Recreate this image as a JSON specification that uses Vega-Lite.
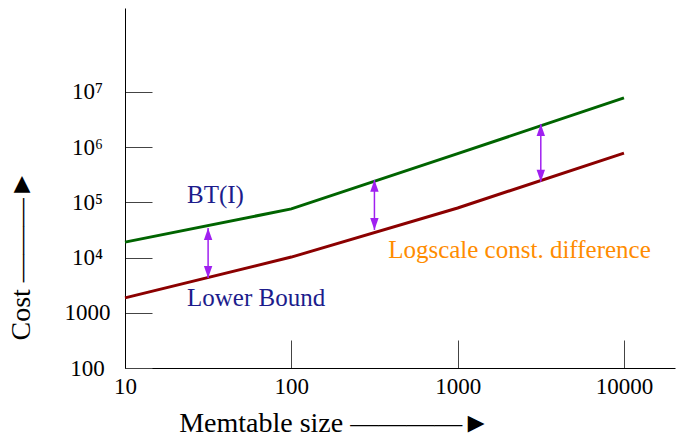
{
  "$schema": "https://vega.github.io/schema/vega-lite/v6.json",
  "width": 550,
  "height": 360,
  "autosize": "none",
  "padding": {"left": 125, "top": 8, "right": 1, "bottom": 68},
  "background": "white",
  "config": {
    "view": {"stroke": null},
    "font": "Liberation Serif"
  },
  "datasets": {
    "lines": [
      {"series": "BT(I)", "size": 10, "cost": 19000},
      {"series": "BT(I)", "size": 100, "cost": 76000},
      {"series": "BT(I)", "size": 1000, "cost": 760000},
      {"series": "BT(I)", "size": 10000, "cost": 7800000},
      {"series": "Lower Bound", "size": 10, "cost": 1860},
      {"series": "Lower Bound", "size": 100, "cost": 10200},
      {"series": "Lower Bound", "size": 1000, "cost": 79000},
      {"series": "Lower Bound", "size": 10000, "cost": 780000}
    ],
    "arrows": [
      {"size": 31.6, "top": 34400, "bottom": 4270},
      {"size": 316, "top": 255000, "bottom": 31600},
      {"size": 3162, "top": 2630000, "bottom": 235000}
    ],
    "labels": [
      {"text": "BT(I)", "size": 23.6, "cost": 136000, "kind": "series"},
      {"text": "Lower Bound", "size": 23.6, "cost": 1860, "kind": "series"},
      {"text": "Logscale const. difference", "size": 382, "cost": 13700, "kind": "note"}
    ]
  },
  "layer": [
    {
      "data": {"name": "lines"},
      "mark": {"type": "line", "strokeWidth": 3, "clip": false},
      "encoding": {
        "x": {
          "field": "size", "type": "quantitative",
          "scale": {"type": "log", "domain": [10, 20270], "nice": false},
          "axis": {
            "values": [10, 100, 1000, 10000],
            "format": "d",
            "grid": false,
            "domainColor": "black",
            "domainWidth": 1,
            "tickSize": -28,
            "tickColor": "#444",
            "labelPadding": 35,
            "labelFlush": false,
            "labelOverlap": false,
            "labelFont": "Liberation Serif",
            "labelFontSize": 23,
            "labelColor": "black",
            "labelBaseline": "top",
            "title": "Memtable size ————►",
            "titleFont": "Liberation Serif",
            "titleFontSize": 28,
            "titleFontWeight": "normal",
            "titleColor": "black",
            "titleX": 209,
            "titleY": 55,
            "titleAlign": "center",
            "titleBaseline": "middle"
          }
        },
        "y": {
          "field": "cost", "type": "quantitative",
          "scale": {"type": "log", "domain": [100, 330000000], "nice": false},
          "axis": {
            "values": [100, 1000, 10000, 100000, 1000000, 10000000],
            "labelExpr": "datum.value < 10000 ? format(datum.value, 'd') : '10' + ['⁰','¹','²','³','⁴','⁵','⁶','⁷','⁸','⁹'][round(log(datum.value)/LN10)]",
            "grid": false,
            "domainColor": "black",
            "domainWidth": 1,
            "tickSize": -27,
            "tickColor": "#444",
            "labelPadding": 65,
            "labelAlign": "center",
            "labelBaseline": "middle",
            "labelOverlap": false,
            "labelFont": "Liberation Serif",
            "labelFontSize": 23,
            "labelColor": "black",
            "title": "Cost ———►",
            "titleFont": "Liberation Serif",
            "titleFontSize": 28,
            "titleFontWeight": "normal",
            "titleColor": "black",
            "titleX": -104,
            "titleY": 247,
            "titleAngle": -90,
            "titleAlign": "center",
            "titleBaseline": "middle"
          }
        },
        "color": {
          "field": "series", "type": "nominal",
          "scale": {"domain": ["BT(I)", "Lower Bound"], "range": ["#006400", "#8B0000"]},
          "legend": null
        }
      }
    },
    {
      "data": {"name": "arrows"},
      "mark": {"type": "rule", "color": "#A020F0", "strokeWidth": 1.5},
      "encoding": {
        "x": {"field": "size", "type": "quantitative"},
        "y": {"field": "top", "type": "quantitative"},
        "y2": {"field": "bottom"}
      }
    },
    {
      "data": {"name": "arrows"},
      "mark": {"type": "point", "filled": true, "color": "#A020F0", "opacity": 1, "size": 144, "shape": "M0,0L-0.7,2L0.7,2Z"},
      "encoding": {
        "x": {"field": "size", "type": "quantitative"},
        "y": {"field": "top", "type": "quantitative"}
      }
    },
    {
      "data": {"name": "arrows"},
      "mark": {"type": "point", "filled": true, "color": "#A020F0", "opacity": 1, "size": 144, "shape": "M0,0L-0.7,-2L0.7,-2Z"},
      "encoding": {
        "x": {"field": "size", "type": "quantitative"},
        "y": {"field": "bottom", "type": "quantitative"}
      }
    },
    {
      "data": {"name": "labels"},
      "mark": {"type": "text", "align": "left", "baseline": "middle", "fontSize": 25, "font": "Liberation Serif"},
      "encoding": {
        "x": {"field": "size", "type": "quantitative"},
        "y": {"field": "cost", "type": "quantitative"},
        "text": {"field": "text"},
        "color": {
          "field": "kind", "type": "nominal",
          "scale": {"domain": ["series", "note"], "range": ["#1C1C8C", "#FF8C00"]},
          "legend": null
        }
      }
    }
  ],
  "resolve": {"scale": {"color": "independent"}}
}
